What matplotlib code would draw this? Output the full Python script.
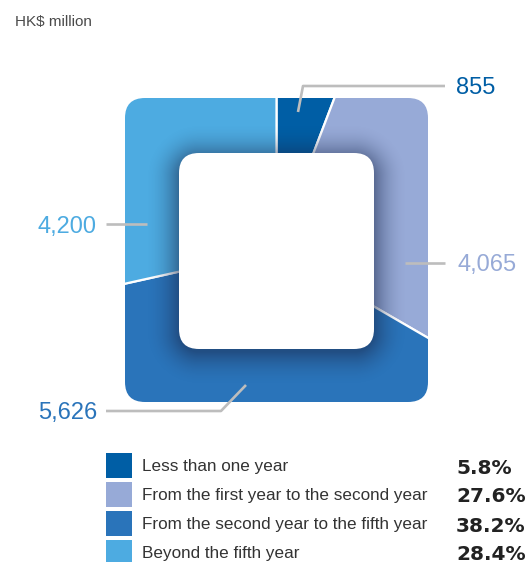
import numpy as np
import matplotlib
matplotlib.use("Agg")
import matplotlib.pyplot as plt
from matplotlib.patches import Wedge, FancyBboxPatch, Rectangle

plt.rcParams['font.family'] = ['Liberation Sans', 'DejaVu Sans']

# maturity profile, HK$ million
categories = ["Less than one year",
              "From the first year to the second year",
              "From the second year to the fifth year",
              "Beyond the fifth year"]
amounts = [855, 4065, 5626, 4200]
amount_labels = ["855", "4,065", "5,626", "4,200"]
pct_labels = ["5.8%", "27.6%", "38.2%", "28.4%"]
colors = ["#005EA5", "#97AAD7", "#2A74BA", "#4DABE1"]

W, H = 531, 562
fig = plt.figure(figsize=(W / 100, H / 100), dpi=100)
ax = fig.add_axes([0, 0, 1, 1])
ax.set_xlim(0, W)
ax.set_ylim(H, 0)
ax.set_aspect("equal")
ax.axis("off")

# square "donut"
x0, y0, side_w, side_h = 125, 98, 303, 304
cx, cy = x0 + side_w / 2, y0 + side_h / 2
ix0, iy0, inner = 179, 153, 195

outer = FancyBboxPatch((x0, y0), side_w, side_h,
                       boxstyle="round,pad=0,rounding_size=20",
                       facecolor="none", edgecolor="none")
ax.add_patch(outer)

fracs = np.array(amounts) / sum(amounts)
start = 0.0
for f, c in zip(fracs, colors):
    # y axis is flipped, so increasing theta runs clockwise from the top
    w = Wedge((cx, cy), 400, -90 + start * 360, -90 + (start + f) * 360,
              facecolor=c, edgecolor="white", linewidth=1.6)
    ax.add_patch(w)
    w.set_clip_path(outer)
    start += f

# soft shadow around the inner square
yy, xx = np.mgrid[0:H, 0:W] + 0.5
hb = inner / 2
r = 20
icx, icy = ix0 + hb, iy0 + hb + 4
qx = np.abs(xx - icx) - hb + r
qy = np.abs(yy - icy) - hb + r
d = np.hypot(np.maximum(qx, 0), np.maximum(qy, 0)) + np.minimum(np.maximum(qx, qy), 0) - r
alpha = 0.5 * np.clip(1 - d / 34, 0, 1) ** 2
shade = np.zeros((H, W, 4))
shade[..., 0], shade[..., 1], shade[..., 2] = 0.10, 0.16, 0.30
shade[..., 3] = alpha
im = ax.imshow(shade, extent=(0, W, H, 0), interpolation="bilinear", zorder=2)
im.set_clip_path(outer)

ax.add_patch(FancyBboxPatch((ix0, iy0), inner, inner + 1,
                            boxstyle="round,pad=0,rounding_size=20",
                            facecolor="white", edgecolor="none", zorder=3))

# leader lines and amount labels
lc = "#BDBDBD"
leaders = [[(298, 112), (303, 86), (445, 86)],
           [(405, 263), (445, 263)],
           [(246, 385), (221, 411), (106, 411)],
           [(147, 224), (106, 224)]]
label_pos = [(456, 86, "left"), (457, 263, "left"),
             (97, 411, "right"), (97, 224, "right")]
for pts, (tx, ty, ha), lab, c in zip(leaders, label_pos, amount_labels, colors):
    xs, ys = zip(*pts)
    ax.plot(xs, ys, color=lc, linewidth=1.9, solid_capstyle="butt", zorder=4)
    ax.text(tx, ty, lab, color=c, fontsize=17, ha=ha, va="center_baseline", zorder=5)

ax.text(15, 22, "HK$ million", color="#4a4a4a", fontsize=11, va="center")

# legend
row_y = [465, 494, 523, 552]
for yv, cat, pct, c in zip(row_y, categories, pct_labels, colors):
    ax.add_patch(Rectangle((106, yv - 12.5), 26, 25, facecolor=c, edgecolor="none"))
    ax.text(142, yv, cat, fontsize=12.3, color="#333333", va="center_baseline")
    ax.text(456, yv + 1, pct, fontsize=14.5, color="#222222", fontweight="bold",
            family="DejaVu Sans", va="center_baseline")

fig.savefig("out.png", dpi=100)
